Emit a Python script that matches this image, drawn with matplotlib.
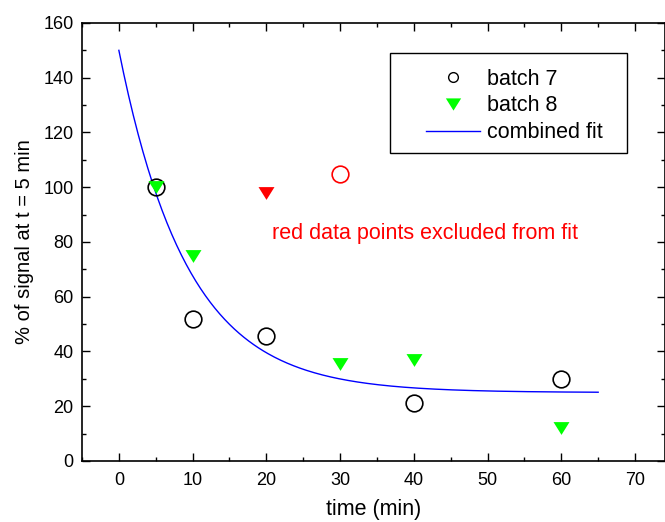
import numpy as np
import matplotlib
matplotlib.use('Agg')
import matplotlib.pyplot as plt
from matplotlib.ticker import MultipleLocator
from matplotlib.lines import Line2D
from matplotlib.patches import Rectangle

plt.rcParams['font.family'] = ['Liberation Sans', 'DejaVu Sans']

# batch 7 (open circles), batch 8 (down triangles)
b7_time = [5, 10, 20, 40, 60]
b7_signal = [100, 52, 45.5, 21, 30]
b8_time = [5, 10, 30, 40, 60]
b8_signal = [100, 75, 35.5, 37, 12]

# points excluded from the fit
excl_circle_time = [30]
excl_circle_signal = [105]
excl_tri_time = [20]
excl_tri_signal = [98]

# combined fit: y = offset + amp * exp(-t / tau)
fit_offset = 25.0
fit_amp = 125.0
fit_tau = 9.3

# flattened down-pointing triangle like the original
tri = [(-1, 0.8), (1, 0.8), (0, -0.8), (-1, 0.8)]

fig = plt.figure(figsize=(6.65, 5.22), dpi=100)
ax = fig.add_axes([0.1233, 0.1169, 0.876, 0.8391])

t_fit = np.linspace(0, 65, 300)
y_fit = fit_offset + fit_amp * np.exp(-t_fit / fit_tau)
ax.plot(t_fit, y_fit, color='#0000ff', linewidth=1, zorder=2)

ax.plot(b7_time, b7_signal, 'o', markersize=12, markerfacecolor='none',
        markeredgecolor='black', markeredgewidth=1.2, zorder=3)
ax.plot(b8_time, b8_signal, marker=tri, linestyle='none', markersize=11.5, color='#00ff00',
        markeredgewidth=0, zorder=3)
ax.plot(excl_circle_time, excl_circle_signal, 'o', markersize=12, markerfacecolor='none',
        markeredgecolor='red', markeredgewidth=1.2, zorder=3)
ax.plot(excl_tri_time, excl_tri_signal, marker=tri, linestyle='none', markersize=11.5,
        color='red', markeredgewidth=0, zorder=3)

ax.text(41.5, 83, 'red data points excluded from fit', color='red', fontsize=15.5,
        ha='center', va='center')

ax.set_xlim(-5, 74)
ax.set_ylim(0, 160)
ax.xaxis.set_major_locator(MultipleLocator(10))
ax.xaxis.set_minor_locator(MultipleLocator(5))
ax.yaxis.set_major_locator(MultipleLocator(20))
ax.yaxis.set_minor_locator(MultipleLocator(10))
ax.tick_params(which='both', direction='in', top=True, right=True, labelsize=13, width=1)
ax.tick_params(which='major', length=6)
ax.tick_params(which='minor', length=3)
ax.tick_params(axis='x', pad=8)
ax.tick_params(axis='y', pad=6)
for s in ax.spines.values():
    s.set_linewidth(1.2)

ax.set_xlabel('time (min)', fontsize=15.5, labelpad=7)
ax.set_ylabel('% of signal at t = 5 min', fontsize=14.5, labelpad=7)

# legend with a hand-made frame
handles = [
    Line2D([], [], marker='o', linestyle='none', markersize=7, markerfacecolor='none',
           markeredgecolor='black', markeredgewidth=1),
    Line2D([], [], marker=tri, linestyle='none', markersize=11, color='#00ff00',
           markeredgewidth=0),
    Line2D([], [], color='#0000ff', linewidth=1),
]
labels = ['batch 7', 'batch 8', 'combined fit']
leg = ax.legend(handles, labels, loc='upper left', bbox_to_anchor=(0.561, 0.935),
                fontsize=15.5, frameon=False, handlelength=2.5, handletextpad=0.35,
                borderpad=0.3, labelspacing=0.27)
box = Rectangle((390, 522 - 153), 237, 100, transform=None, fill=False,
                edgecolor='black', linewidth=1, zorder=4)
fig.patches.append(box)

fig.savefig('out.png', dpi=100)
